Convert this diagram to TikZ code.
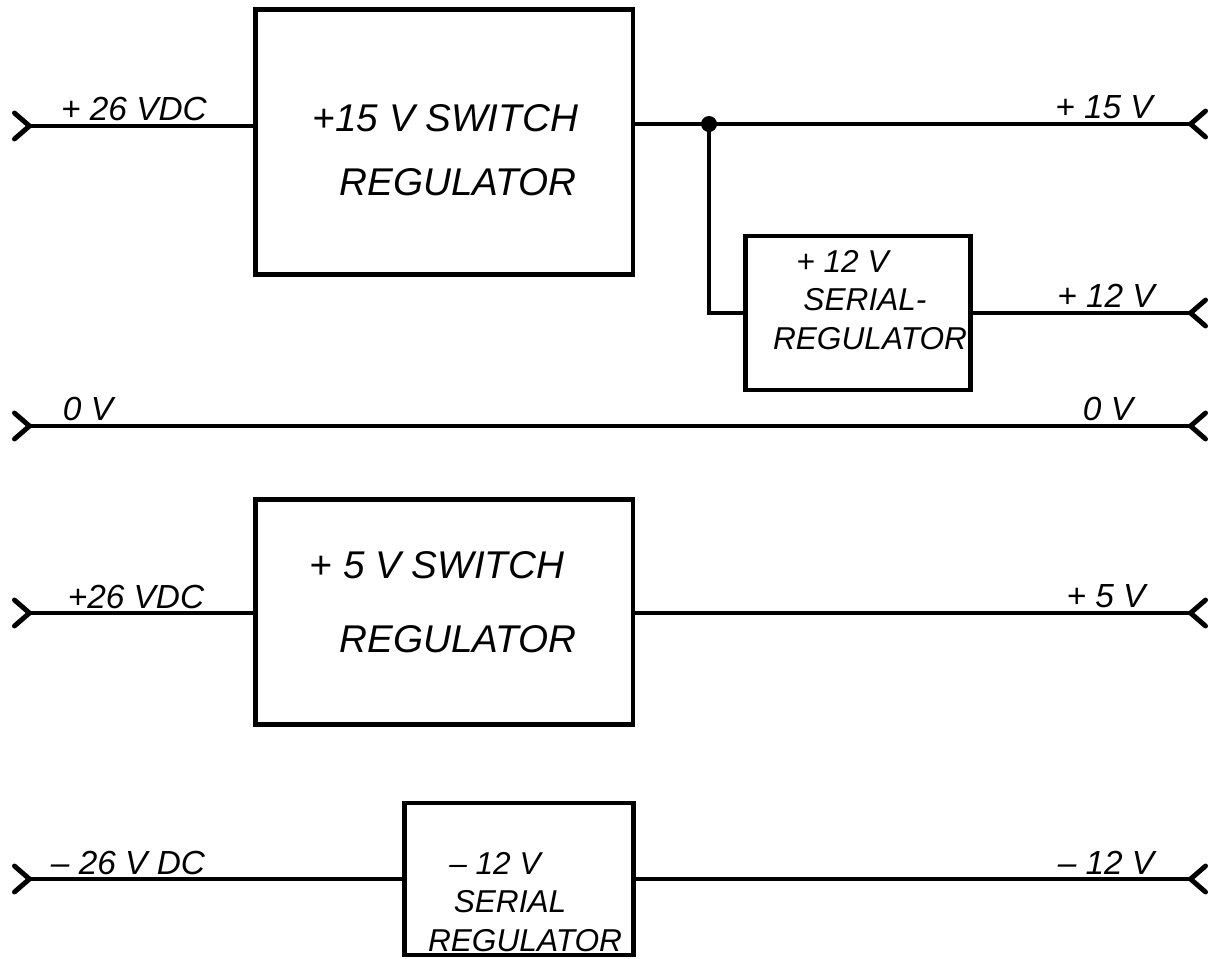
\documentclass[tikz,border=0pt]{standalone}
\usepackage{fontspec}
\setmainfont{Liberation Sans}
\usetikzlibrary{arrows.meta,positioning,calc}

\begin{document}
\begin{tikzpicture}[x=0.02cm, y=-0.02cm, line width=2pt, font=\itshape\fontsize{19}{27}\selectfont,
  reg/.style={draw,line width=2.8pt,inner sep=0pt},
  txt/.style={inner sep=0pt,align=center,font=\itshape\fontsize{22}{27}\selectfont},
  small/.style={inner sep=0pt,align=center,font=\itshape\fontsize{18}{22}\selectfont},
  lbl/.style={inner sep=0pt},
  rail/.style={{Straight Barb[reversed,round,length=3mm,width=5.2mm,line width=2.8pt]}-{Straight Barb[reversed,round,length=3mm,width=5.2mm,line width=2.8pt]}},
  inl/.style={{Straight Barb[reversed,round,length=3mm,width=5.2mm,line width=2.8pt]}-},
  outl/.style={-{Straight Barb[reversed,round,length=3mm,width=5.2mm,line width=2.8pt]}}]
\useasboundingbox (0,0) rectangle (1214,958);
% regulators
\node[reg, minimum width=7.56cm, minimum height=5.3cm] (sw15) at (444,142) {};
\node[reg, minimum width=4.5cm, minimum height=3.08cm] (ser12) at (858,313) {};
\node[reg, minimum width=7.56cm, minimum height=4.5cm] (sw5) at (444,612) {};
\node[reg, minimum width=4.58cm, minimum height=3.04cm] (ser12n) at (519,879) {};
\node[txt] (sw15t) at (458,150) {+15 V SWITCH\hspace{.5cm}\mbox{}\\[.34cm]REGULATOR};
\node[small] (ser12t) at (870,300) {+ 12 V\hspace{1.1cm}\mbox{}\\SERIAL-\hspace{.2cm}\mbox{}\\REGULATOR};
\node[txt] (sw5t) at (458,602) {+ 5 V SWITCH\hspace{.84cm}\mbox{}\\[.54cm]REGULATOR};
\node[small] (ser12nt) at (525,902) {-- 12 V\hspace{1.2cm}\mbox{}\\SERIAL\hspace{.6cm}\mbox{}\\REGULATOR};
% terminals
\coordinate (in26a) at (12,126);
\coordinate (out15) at (1208,124);
\coordinate (out12) at (1208,313);
\coordinate (in0) at (12,426);
\coordinate (out0) at (1208,426);
\coordinate (in26b) at (12,613);
\coordinate (out5) at (1208,613);
\coordinate (in26n) at (12,879);
\coordinate (out12n) at (1208,879);
\coordinate (tap) at (709,124);
% wiring
\draw[inl] (in26a) -- (sw15.west |- in26a);
\draw[outl] (sw15.east |- out15) -- (out15);
\draw (tap) |- (ser12.west);
\fill (tap) circle (8);
\draw[outl] (ser12.east) -- (out12);
\draw[rail] (in0) -- (out0);
\draw[inl] (in26b) -- (sw5.west |- in26b);
\draw[outl] (sw5.east |- out5) -- (out5);
\draw[inl] (in26n) -- (ser12n.west);
\draw[outl] (ser12n.east) -- (out12n);
% labels
\node[lbl] (t1) at (134,109) {+ 26 VDC};
\node[lbl] (t2) at (1104,107) {+ 15 V};
\node[lbl] (t3) at (1106,296) {+ 12 V};
\node[lbl] (t4) at (88,409) {0 V};
\node[lbl] (t5) at (1108,409) {0 V};
\node[lbl] (t6) at (136,597) {+26 VDC};
\node[lbl] (t7) at (1106,596) {+ 5 V};
\node[lbl] (t8) at (128,863) {-- 26 V DC};
\node[lbl] (t9) at (1106,863) {-- 12 V};
\end{tikzpicture}
\end{document}
